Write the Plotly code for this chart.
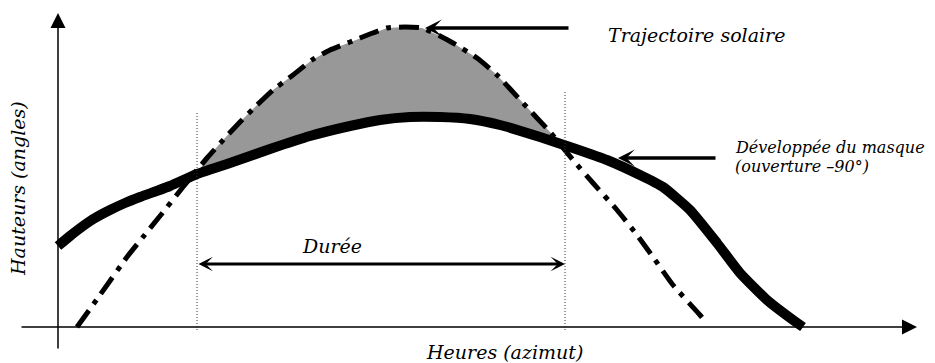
import numpy as np
import plotly.graph_objects as go

# Horizon mask development (thick solid line): azimuth position vs. obstacle height
mask_x = [0, 12, 25, 37, 52, 67, 82, 112, 139, 172, 212, 252, 292, 322, 352, 382, 412, 442,
          482, 515, 549, 582, 605, 632, 659, 682, 709, 735, 745]
mask_y = [81, 91, 101, 109, 117, 124, 130, 141, 153, 164, 178, 191, 201, 207, 210, 210, 208, 202,
          190, 179, 167, 152, 140, 117, 84, 54, 27, 7, 0]

# Sun path (dash-dot line)
traj_x = [19, 42, 69, 85, 102, 125, 149, 167, 182, 199, 215, 235, 254, 272, 292, 312, 329, 347,
          364, 382, 395, 419, 439, 465, 492, 515, 535, 559, 579, 595, 615, 642, 647]
traj_y = [0, 32, 70, 90, 111, 140, 169, 189, 205, 222, 237, 252, 267, 277, 285, 293, 299, 300,
          299, 291, 284, 269, 252, 224, 195, 167, 144, 117, 92, 70, 42, 12, 6]

# Sunshine window limits (where the sun path rises above the mask)
duree_start = 139
duree_end = 507

SERIF = "DejaVu Serif"
FONT = dict(family=SERIF, size=19, color="black")
FONT_SMALL = dict(family=SERIF, size=16, color="black")

mx = np.array(mask_x, float)
my = np.array(mask_y, float)
tx = np.array(traj_x, float)
ty = np.array(traj_y, float)

# Sunny area: between the sun path and the mask, inside the window
sun_pts = [(x, y) for x, y in zip(tx, ty) if duree_start < x < duree_end - 2]
mask_pts = [(x, y) for x, y in zip(mx, my) if duree_start < x < duree_end - 2]
left = (duree_start, float(np.interp(duree_start, mx, my)))
right = (duree_end - 2, float(np.interp(duree_end - 2, mx, my)))
poly = [left] + sun_pts + [right] + mask_pts[::-1] + [left]
fill_x = [p[0] for p in poly]
fill_y = [p[1] for p in poly]

fig = go.Figure()
fig.add_trace(go.Scatter(x=fill_x, y=fill_y, mode="lines", fill="toself",
                         fillcolor="#989898", line=dict(width=0), hoverinfo="skip"))
fig.add_trace(go.Scatter(x=traj_x, y=traj_y, mode="lines",
                         line=dict(color="black", width=5, dash="20px,8px,5px,8px",
                                   shape="spline", smoothing=0.5)))
fig.add_trace(go.Scatter(x=mask_x, y=mask_y, mode="lines",
                         line=dict(color="black", width=10, shape="spline", smoothing=0.5)))

# Dotted verticals marking the window
for xv, ytop in [(duree_start, 214), (duree_end, 237)]:
    fig.add_shape(type="line", x0=xv, x1=xv, y0=-3, y1=ytop, xref="x", yref="y",
                  line=dict(color="#333333", width=1, dash="1px,2px"))

def arrow(x, y, ax, ay, width, head, size, side="end"):
    fig.add_annotation(x=x, y=y, ax=ax, ay=ay, xref="x", yref="y", axref="x", ayref="y",
                       text="", showarrow=True, arrowhead=head, startarrowhead=head,
                       arrowsize=size, startarrowsize=size, arrowwidth=width,
                       arrowcolor="black", arrowside=side)

# Axes
arrow(0, 314, 0, -23, 1.5, 2, 2.0)
arrow(859, 0, -38, 0, 1.5, 2, 2.0)
# Duration arrow
arrow(duree_end, 63, duree_start, 63, 3, 3, 0.8, side="end+start")
# Leader arrows for the labels
arrow(367, 299, 512, 299, 3.5, 3, 0.8)
arrow(560, 169, 659, 169, 3.5, 3, 0.8)

def label(x, y, text, xanchor="center", angle=0, font=FONT):
    fig.add_annotation(x=x, y=y, xref="x", yref="y", text="<i>" + text + "</i>",
                       showarrow=False, xanchor=xanchor, yanchor="middle",
                       textangle=angle, font=font)

label(446, -25, "Heures (azimut)")
label(-40, 138, "Hauteurs (angles)", angle=-90)
label(274, 81, "Durée")
label(548, 292, "Trajectoire solaire", xanchor="left")
label(675, 180, "Développée du masque", xanchor="left", font=FONT_SMALL)
label(675, 161, "(ouverture –90°)", xanchor="left", font=FONT_SMALL)

fig.update_layout(
    width=935, height=363, margin=dict(l=0, r=0, t=0, b=0),
    font=dict(family=SERIF),
    paper_bgcolor="white", plot_bgcolor="white", showlegend=False,
    xaxis=dict(range=[-58, 877], visible=False, fixedrange=True),
    yaxis=dict(range=[-36, 327], visible=False, fixedrange=True),
)

fig.write_html("out.html")
